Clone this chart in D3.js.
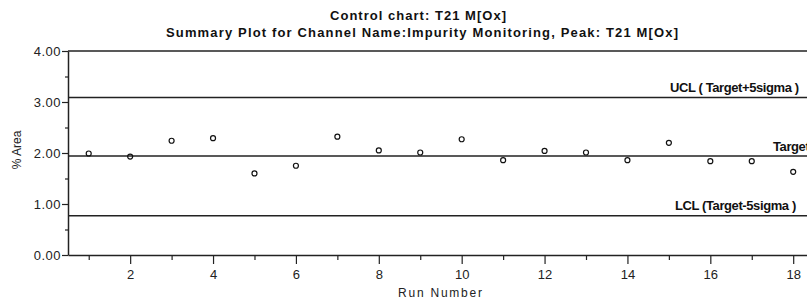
<!DOCTYPE html>
<html>
<head>
<meta charset="utf-8">
<script src="https://cdn.jsdelivr.net/npm/d3@7"></script>
<style>
  body { margin: 0; background: #fff; }
  svg { display: block; font-family: "Liberation Sans", Arial, sans-serif; }
</style>
</head>
<body>
<svg></svg>
<script>
// values
const runs = [1, 2, 3, 4, 5, 6, 7, 8, 9, 10, 11, 12, 13, 14, 15, 16, 17, 18];
const areaValues = [1.99, 1.93, 2.24, 2.29, 1.60, 1.75, 2.32, 2.05, 2.01, 2.27, 1.86, 2.04, 2.01, 1.86, 2.20, 1.84, 1.84, 1.63];
const limitNames = ["UCL ( Target+5sigma )", "Target", "LCL (Target-5sigma )"];
const limitValues = [3.09, 1.94, 0.77];
const yTicks = [0, 1, 2, 3, 4];
const xTicks = [2, 4, 6, 8, 10, 12, 14, 16, 18];

let width = 807;
let height = 300;
let svg = d3.select("svg")
            .attr("width", width)
            .attr("height", height);

let plotLeft = 68, plotTop = 51, plotBottom = 255;

let x = d3.scaleLinear()
    .domain([0.5, 19.5])
    .range([plotLeft, plotLeft + 19 * 41.44]);

let y = d3.scaleLinear()
    .domain([0, 4])
    .range([plotBottom, plotTop]);

// titles
svg.append("text")
    .attr("x", 330)
    .attr("y", 20)
    .attr("font-size", 13)
    .attr("font-weight", "bold")
    .attr("fill", "#111")
    .attr("textLength", 176)
    .attr("lengthAdjust", "spacing")
    .text("Control chart: T21 M[Ox]");

svg.append("text")
    .attr("x", 166)
    .attr("y", 37)
    .attr("font-size", 13)
    .attr("font-weight", "bold")
    .attr("fill", "#111")
    .attr("textLength", 512)
    .attr("lengthAdjust", "spacing")
    .text("Summary Plot for Channel Name:Impurity Monitoring, Peak: T21 M[Ox]");

// top frame line
svg.append("line")
    .attr("x1", plotLeft).attr("x2", width)
    .attr("y1", plotTop).attr("y2", plotTop)
    .attr("stroke", "#222").attr("stroke-width", 1.5);

// y axis
let yAxis = svg.append("g")
    .attr("transform", `translate(${plotLeft},0)`)
    .call(d3.axisLeft(y)
        .tickValues(yTicks)
        .tickSize(6)
        .tickSizeOuter(0)
        .tickFormat(d3.format(".2f")));

svg.append("g")
    .attr("transform", `translate(${plotLeft},0)`)
    .call(d3.axisLeft(y)
        .tickValues([0.5, 1.5, 2.5, 3.5])
        .tickSize(3)
        .tickSizeOuter(0)
        .tickFormat(""))
    .select(".domain").remove();

// x axis
let xAxis = svg.append("g")
    .attr("transform", `translate(0,${plotBottom})`)
    .call(d3.axisBottom(x)
        .tickValues(xTicks)
        .tickSize(9)
        .tickSizeOuter(0)
        .tickFormat(d3.format("d")));

svg.append("g")
    .attr("transform", `translate(0,${plotBottom})`)
    .call(d3.axisBottom(x)
        .tickValues([1, 3, 5, 7, 9, 11, 13, 15, 17, 19])
        .tickSize(5)
        .tickSizeOuter(0)
        .tickFormat(""))
    .select(".domain").remove();

svg.selectAll(".domain").attr("stroke", "#222").attr("stroke-width", 1.5);
svg.selectAll(".tick line").attr("stroke", "#222").attr("stroke-width", 1.2);
yAxis.selectAll("text")
    .attr("font-size", 13)
    .attr("font-family", "Liberation Sans, Arial, sans-serif")
    .attr("fill", "#222")
    .attr("letter-spacing", 0.5)
    .attr("x", -7);
xAxis.selectAll("text")
    .attr("font-size", 13)
    .attr("font-family", "Liberation Sans, Arial, sans-serif")
    .attr("fill", "#222")
    .attr("dy", "0.95em");

// axis titles
svg.append("text")
    .attr("transform", `translate(21,150) rotate(-90)`)
    .attr("text-anchor", "middle")
    .attr("font-size", 12)
    .attr("fill", "#222")
    .text("% Area");

svg.append("text")
    .attr("x", 398)
    .attr("y", 297)
    .attr("font-size", 12)
    .attr("fill", "#222")
    .attr("textLength", 84)
    .attr("lengthAdjust", "spacing")
    .text("Run Number");

// limit lines
let limitX = [670, 773, 675];
limitValues.forEach((v, i) => {
    svg.append("line")
        .attr("x1", plotLeft).attr("x2", width)
        .attr("y1", y(v)).attr("y2", y(v))
        .attr("stroke", "#222").attr("stroke-width", 1.5);
    svg.append("text")
        .attr("x", limitX[i])
        .attr("y", y(v) - 5.5)
        .attr("font-size", 13)
        .attr("font-weight", "bold")
        .attr("letter-spacing", -0.4)
        .attr("fill", "#111")
        .text(limitNames[i]);
});

// points
svg.append("g")
    .selectAll("circle")
    .data(runs)
    .enter()
    .append("circle")
    .attr("cx", (d) => x(d))
    .attr("cy", (d, i) => y(areaValues[i]))
    .attr("r", 2.5)
    .attr("fill", "none")
    .attr("stroke", "#111")
    .attr("stroke-width", 1.2);
</script>
</body>
</html>
